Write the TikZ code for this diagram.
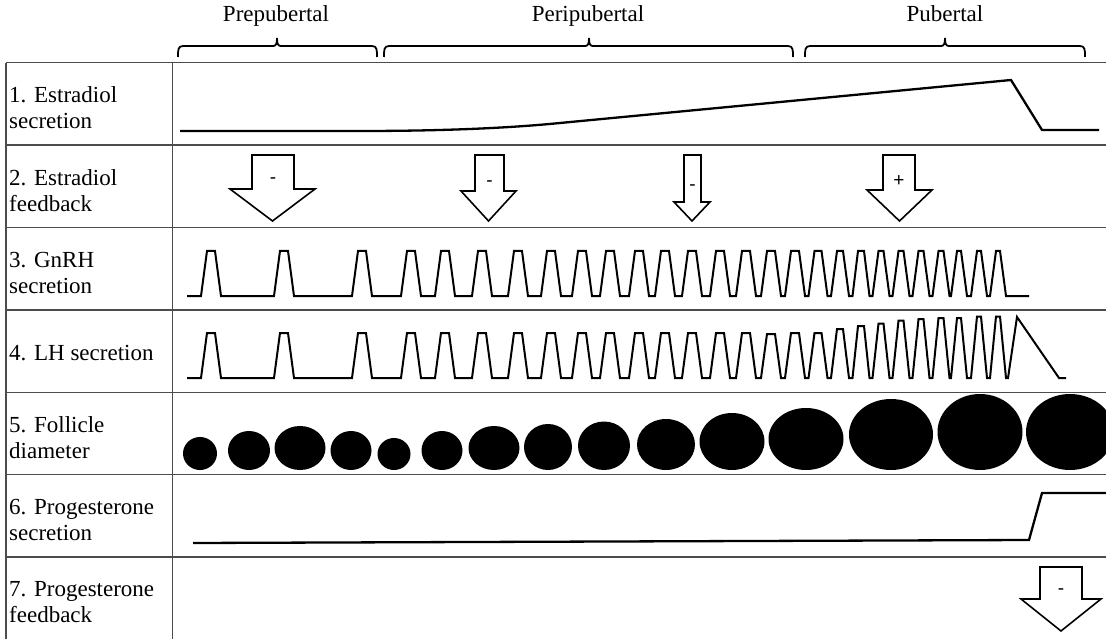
\documentclass[tikz,border=0pt]{standalone}
\usepackage{fontspec}
\setmainfont{Liberation Serif}
\newfontfamily\signfont{Liberation Sans}
\newcommand\phasebrace[3]{%
  \draw[brc] (#1,57) .. controls (#1,50) and (#1,46) .. (#1+5,46) -- (#2-4,46)
    .. controls (#2-1,46) and (#2,44) .. (#2,38)
    .. controls (#2,44) and (#2+1,46) .. (#2+4,46) -- (#3-5,46)
    .. controls (#3,46) and (#3,50) .. (#3,57);}
\newcommand\fbarrow[9]{%
  \draw[blk] (#1,#5) -- (#2,#5) -- (#2,#6) -- (#4,#6) -- ({(#3+#4)/2},#7) -- (#3,#6) -- (#1,#6) -- cycle;
  \node[sgn] at ({(#1+#2)/2},#9) {#8};}
\begin{document}
\begin{tikzpicture}[x=1pt,y=-1pt,
  grid/.style={line width=1.3pt, draw=black!70},
  curve/.style={line width=2.3pt},
  pulse/.style={line width=2pt},
  blk/.style={line width=1.6pt, fill=white},
  lbl/.style={anchor=west, align=left, inner sep=0pt, font=\fontsize{23}{26}\selectfont},
  hdr/.style={anchor=base, inner sep=0pt, font=\fontsize{23}{27}\selectfont},
  sgn/.style={inner sep=0pt, font=\signfont\fontsize{19}{22}\selectfont},
  brc/.style={line width=1.8pt},
  foll/.style={fill=black, draw=none}]
\useasboundingbox (0,0) rectangle (1106,639);
\begin{scope}
\clip (0,0) rectangle (1106,639);
% table
\foreach \yy in {62.7,145,227.5,310,392.3,474.5,557}
  \draw[grid] (6,\yy) -- (1106,\yy);
\draw[grid] (6,62.7) -- (6,640);
\draw[grid] (172.3,62.7) -- (172.3,640);
% headers
\node[hdr] (h1) at (276,22) {Prepubertal};
\node[hdr] (h2) at (588,22) {Peripubertal};
\node[hdr] (h3) at (945,22) {Pubertal};
\phasebrace{178}{277}{377}
\phasebrace{384}{589}{793}
\phasebrace{805}{945}{1085}
% labels
\node[lbl] (l1) at (9,108) {1. Estradiol\\secretion};
\node[lbl] (l2) at (9,190.5) {2. Estradiol\\feedback};
\node[lbl] (l3) at (9,273) {3. GnRH\\secretion};
\node[lbl] (l4) at (9,353) {4. LH secretion};
\node[lbl] (l5) at (9,437.5) {5. Follicle\\diameter};
\node[lbl] (l6) at (9,520) {6. Progesterone\\secretion};
\node[lbl] (l7) at (9,602.5) {7. Progesterone\\feedback};
% 1. estradiol
\draw[curve] (180,131) -- (360,131) .. controls (440,131) and (506.7,128.3) .. (560,123)
  -- (1011,80) -- (1042,130) -- (1099,130);
% 2. feedback arrows
\fbarrow{252}{294}{230}{315}{155}{189}{221}{-}{181}
\fbarrow{475}{504}{461}{516}{155}{191}{221}{-}{184}
\fbarrow{684}{701}{674}{710}{155}{202}{221}{-}{188}
\fbarrow{883}{915}{867}{932}{155}{190}{221}{+}{181}
% 3. GnRH
\draw[pulse] (187,296)
  \foreach \c/\b/\t in {211/10/4,284/10/4,362/10/4,411/10/4,445/10/4,482/10/4,518/10/4,
    551/10/4,582/10/4,610/10/4,639/10/4,665/10/4,692/10/4,720/10/4,746/10/4,771/10/4,
    795/10/4,818/9.5/3.5,840/9/3,861/8.5/3,881/8.5/2.5,901/8.5/2.5,921/8.5/2.5,
    941/8.5/2.5,959/8/2,979/8/2,998/8/2}
  { -- (\c-\b,296) -- (\c-\t,251) -- (\c+\t,251) -- (\c+\b,296) }
  -- (1029,296);
% 4. LH
\draw[pulse] (187,378)
  \foreach \c/\b/\t/\p in {211/10/4/333,284/10/4/333,362/10/4/333,411/10/4/333,445/10/4/333,
    482/10/4/333,518/10/4/333,551/10/4/333,582/10/4/333,610/10/4/333,639/10/4/333,
    665/10/4/333,692/10/4/333,720/10/4/333,746/10/4/333,771/10/4/334,795/10/4/333,
    818/9.5/3.5/333,840/9/3/329,861/8.5/3/326,881/8.5/2.5/323.5,901/8.5/2.5/320.5,
    921/8.5/2.5/319,941/8.5/2.5/318,959/8/2/318,979/8/2/316.5,998/8/2/316.5}
  { -- (\c-\b,378) -- (\c-\t,\p) -- (\c+\t,\p) -- (\c+\b,378) }
  -- (1008,378) -- (1017,317) -- (1059,378) -- (1066,378);
% 5. follicles
\foreach \cx/\w/\h in {200/34/33,249/42/39,300/51/44,351/41/39,394/33/32,442/41/39,
    494/51/44,548/48/46,604/52/48.5,666/58/51,732/65/57,806/75/62,891/84/71,
    980/85/76,1070/88/76}
  \fill[foll] (\cx,470-\h/2) ellipse [x radius=\w/2, y radius=\h/2];
% 6. progesterone
\draw[curve] (193,543) -- (1029,540) -- (1042,493) -- (1106,493);
% 7. progesterone feedback
\fbarrow{1040}{1082}{1021}{1101}{567}{599}{631}{-}{592}
\end{scope}
\end{tikzpicture}
\end{document}
